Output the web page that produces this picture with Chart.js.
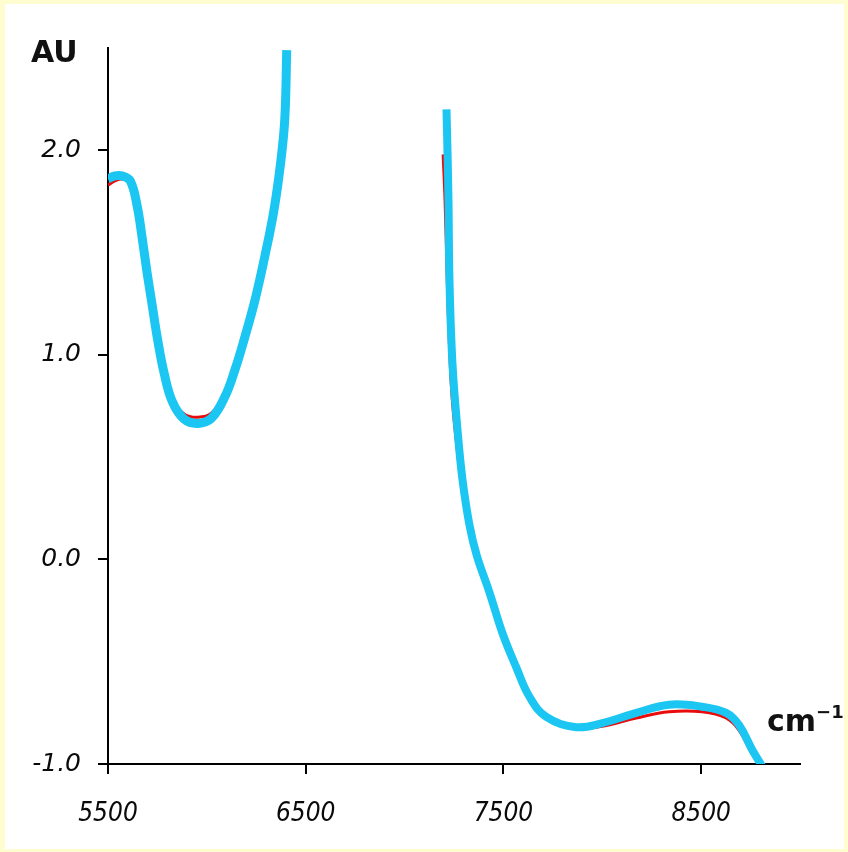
<!DOCTYPE html>
<html>
<head>
<meta charset="utf-8">
<script src="https://cdn.jsdelivr.net/npm/chart.js@4"></script>
<style>
  html, body { margin: 0; padding: 0; background: #FFFDCF; }
  #panel { position: absolute; left: 5px; top: 4px; width: 839px; height: 845px; background: #ffffff; }
  #c { position: absolute; left: 0; top: 0; }
</style>
</head>
<body>
<div id="panel"></div>
<canvas id="c" width="848" height="852"></canvas>
<script>
// ---- data ----
const waveBlue1 = [5500, 5535, 5571, 5613, 5647, 5673, 5698, 5724, 5750, 5784, 5826, 5886, 5955, 6023, 6091, 6142, 6193, 6244, 6295, 6338, 6372, 6394, 6404];
const absBlue1  = [1.86, 1.875, 1.875, 1.85, 1.73, 1.57, 1.40, 1.24, 1.08, 0.91, 0.77, 0.685, 0.665, 0.69, 0.795, 0.927, 1.09, 1.27, 1.49, 1.70, 1.93, 2.15, 2.49];

const waveBlue2 = [7212, 7217, 7222, 7227, 7242, 7268, 7293, 7328, 7365, 7429, 7495, 7566, 7631, 7717, 7869, 8000, 8172, 8338, 8505, 8626, 8692, 8758, 8808];
const absBlue2  = [2.20, 2.00, 1.76, 1.37, 0.96, 0.63, 0.39, 0.17, 0.02, -0.16, -0.36, -0.53, -0.67, -0.77, -0.82, -0.80, -0.75, -0.71, -0.72, -0.75, -0.81, -0.93, -1.01];

const waveRed1 = [5500, 5535, 5571, 5613, 5647, 5673, 5698, 5724, 5750, 5784, 5826, 5886, 5955, 6023, 6091, 6142, 6193, 6244, 6295, 6338, 6372, 6394];
const absRed1  = [1.83, 1.85, 1.86, 1.84, 1.73, 1.57, 1.40, 1.24, 1.085, 0.92, 0.785, 0.71, 0.695, 0.715, 0.81, 0.935, 1.09, 1.27, 1.48, 1.68, 1.90, 2.12];

const waveRed2 = [7195, 7205, 7215, 7225, 7240, 7265, 7290, 7325, 7365, 7429, 7495, 7566, 7631, 7717, 7869, 8000, 8172, 8338, 8505, 8626, 8692, 8758, 8800];
const absRed2  = [1.98, 1.75, 1.40, 1.10, 0.80, 0.55, 0.36, 0.16, 0.01, -0.17, -0.37, -0.54, -0.68, -0.78, -0.825, -0.815, -0.775, -0.745, -0.745, -0.775, -0.835, -0.95, -1.0];

const xTicks = [5500, 6500, 7500, 8500];
const yTicks = [-1.0, 0.0, 1.0, 2.0];
const yAxisTitle = 'AU';
const xAxisUnit = 'cm';
const xAxisPower = '\u22121';

const toPts = (xs, ys) => xs.map((x, i) => ({ x: x, y: ys[i] }));

const BLUE = '#1BC6F2';
const RED = '#E80C0C';

const labelsPlugin = {
  id: 'axisTitles',
  afterDraw(chart) {
    const c = chart.ctx;
    c.save();
    c.fillStyle = '#111111';
    c.textBaseline = 'alphabetic';
    c.textAlign = 'left';
    c.font = 'bold 30px "DejaVu Sans"';
    c.fillText(yAxisTitle, 31, 62);
    c.font = 'bold 30px "DejaVu Sans"';
    c.fillText(xAxisUnit, 767, 731);
    const w = c.measureText(xAxisUnit).width;
    c.font = 'bold 18px "DejaVu Sans"';
    c.fillText(xAxisPower, 767 + w, 718);
    c.restore();
  }
};

new Chart(document.getElementById('c'), {
  type: 'line',
  data: {
    datasets: [
      { data: toPts(waveBlue1, absBlue1), borderColor: BLUE, borderWidth: 9, pointRadius: 0, tension: 0.4, order: 0 },
      { data: toPts(waveBlue2, absBlue2), borderColor: BLUE, borderWidth: 8, pointRadius: 0, tension: 0.4, order: 0 },
      { data: toPts(waveRed1, absRed1), borderColor: RED, borderWidth: 3, pointRadius: 0, tension: 0.4, order: 1 },
      { data: toPts(waveRed2, absRed2), borderColor: RED, borderWidth: 3, pointRadius: 0, tension: 0.4, order: 1 }
    ]
  },
  options: {
    responsive: false,
    animation: false,
    devicePixelRatio: 1,
    layout: { padding: { top: 48, right: 48, left: 0, bottom: 0 } },
    plugins: { legend: { display: false }, tooltip: { enabled: false } },
    elements: { line: { borderCapStyle: 'butt', borderJoinStyle: 'round', capBezierPoints: true } },
    scales: {
      x: {
        type: 'linear', min: 5500, max: 9000, offset: false,
        afterBuildTicks: s => { s.ticks = xTicks.map(v => ({ value: v })); },
        afterFit: s => { s.height = 88; },
        ticks: { color: '#0a0a0a', font: { family: '"DejaVu Sans Condensed", "DejaVu Sans"', style: 'italic', size: 26 }, padding: 25, maxRotation: 0, autoSkip: false,
                 callback: v => String(v) },
        grid: { drawOnChartArea: false, drawTicks: true, tickLength: 10, color: '#000000', lineWidth: 2 },
        border: { display: true, color: '#000000', width: 2 }
      },
      y: {
        type: 'linear', min: -1, max: 2.5,
        afterBuildTicks: s => { s.ticks = yTicks.map(v => ({ value: v })); },
        afterFit: s => { s.width = 108; },
        ticks: { color: '#0a0a0a', font: { family: '"DejaVu Sans"', style: 'italic', size: 25 }, padding: 17, autoSkip: false,
                 callback: v => Number(v).toFixed(1) },
        grid: { drawOnChartArea: false, drawTicks: true, tickLength: 10, color: '#000000', lineWidth: 2 },
        border: { display: true, color: '#000000', width: 2 }
      }
    }
  },
  plugins: [labelsPlugin]
});
</script>
</body>
</html>
